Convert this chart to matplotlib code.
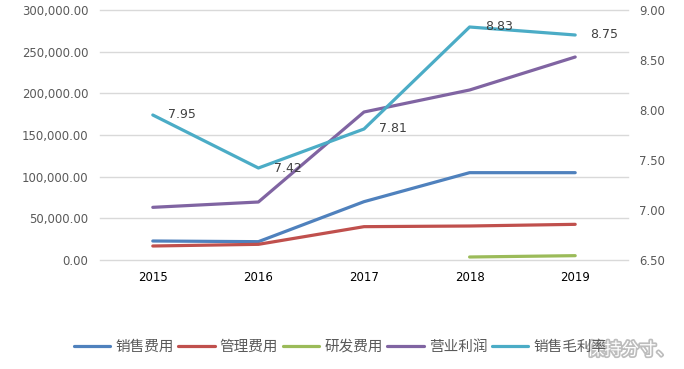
import matplotlib
matplotlib.use("Agg")
import matplotlib.pyplot as plt
import matplotlib.patheffects as pe
import numpy as np

plt.rcParams['font.family'] = ['Noto Sans CJK SC', 'DejaVu Sans']

years = ['2015', '2016', '2017', '2018', '2019']
sales_cost = [22800, 22000, 70000, 104800, 104800]
admin_cost = [16800, 18800, 40000, 40800, 42800]
rd_cost = [np.nan, np.nan, np.nan, 3600, 5200]
op_profit = [63200, 69600, 177600, 204000, 243600]
gross_margin = [7.95, 7.42, 7.81, 8.83, 8.75]

labels = ['销售费用', '管理费用', '研发费用', '营业利润', '销售毛利率']
colors = ['#4F81BD', '#C0504D', '#9BBB59', '#8064A2', '#4BACC6']

W, H = 684, 369
fig = plt.figure(figsize=(W / 100, H / 100), dpi=100, facecolor='white')
ax = fig.add_axes([100 / W, (H - 260) / H, 528 / W, 250 / H])
ax2 = ax.twinx()

x = np.arange(len(years))
lines = []
for vals, c in zip([sales_cost, admin_cost, rd_cost, op_profit], colors[:4]):
    l, = ax.plot(x, vals, color=c, lw=2.3, solid_capstyle='round', zorder=3)
    lines.append(l)
l, = ax2.plot(x, gross_margin, color=colors[4], lw=2.3, solid_capstyle='round', zorder=3)
lines.append(l)

for xi, v in zip(x, gross_margin):
    ax2.annotate(f'{v:.2f}', (xi, v), xytext=(11, 0), textcoords='offset points',
                 ha='left', va='center', fontsize=9, color='#404040',
                 family=['DejaVu Sans'])

ax.set_xlim(-0.5, 4.5)
ax.set_ylim(0, 300000)
ax2.set_ylim(6.5, 9.0)
ax.set_yticks(np.arange(0, 300001, 50000))
ax2.set_yticks(np.arange(6.5, 9.01, 0.5))
ax.set_yticklabels([f'{v:,.2f}' for v in np.arange(0, 300001, 50000)],
                   color='#595959', fontsize=8.4, family=['DejaVu Sans'])
ax2.set_yticklabels([f'{v:.2f}' for v in np.arange(6.5, 9.01, 0.5)],
                    color='#595959', fontsize=8.4, family=['DejaVu Sans'])
ax.set_xticks(x)
ax.set_xticklabels(years, fontsize=8.5, color='black', family=['DejaVu Sans'])

ax.grid(axis='y', color='#D9D9D9', lw=1)
ax.set_axisbelow(True)
for gl in ax.get_ygridlines():
    gl.set_clip_on(False)
for a in (ax, ax2):
    for s in a.spines.values():
        s.set_visible(False)
    a.tick_params(length=0)
ax.tick_params(axis='y', pad=8.5)
ax2.tick_params(axis='y', pad=8)
ax.tick_params(axis='x', pad=8)

fig.legend(lines, labels, loc='center', bbox_to_anchor=(340 / W, (H - 347) / H),
           ncol=5, frameon=False, fontsize=10.5, handlelength=2.5,
           columnspacing=0.3, handletextpad=0.35, labelcolor='#595959')

fig.text(587 / W, (H - 350) / H, '保持分寸、', fontsize=12.5, color='white',
         ha='left', va='center',
         path_effects=[pe.withStroke(linewidth=2.5, foreground='#BDBDBD')])

fig.savefig('out.png', dpi=100, facecolor='white')
